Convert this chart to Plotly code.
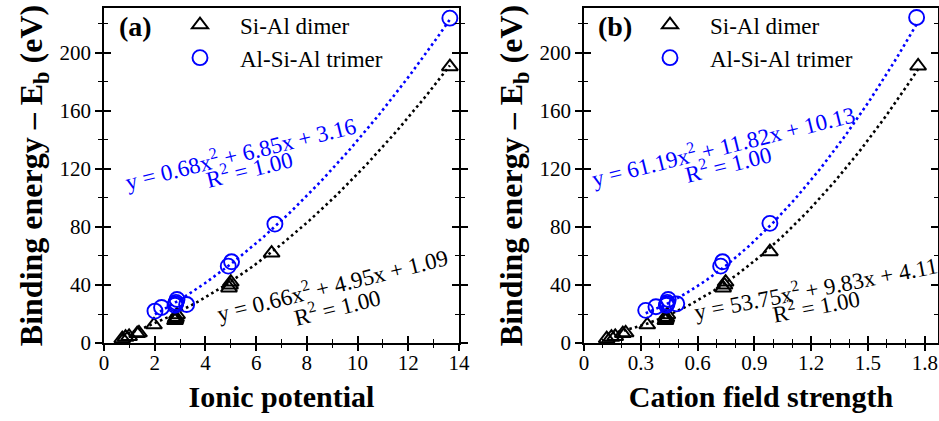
import numpy as np
import plotly.graph_objects as go

# ---------------- data ----------------
# Panel (a): ionic potential
dimer_ip_x = [0.72, 0.85, 0.99, 1.31, 1.38, 1.97, 2.80, 2.84, 2.88, 2.82, 4.93, 4.97, 5.00, 6.61, 13.64]
dimer_ip_y = [3.0, 4.0, 4.5, 6.5, 7.0, 12.5, 15.5, 17.5, 19.5, 16.5, 38.0, 40.0, 42.0, 62.0, 190.5]
trimer_ip_x = [2.01, 2.27, 2.80, 2.84, 2.88, 2.82, 3.26, 4.90, 5.03, 6.74, 13.64]
trimer_ip_y = [22.0, 24.5, 26.0, 28.0, 30.0, 27.0, 26.5, 53.0, 56.0, 82.0, 224.0]

# Panel (b): cation field strength
dimer_cfs_x = [0.12, 0.145, 0.165, 0.205, 0.22, 0.334, 0.43, 0.435, 0.44, 0.432, 0.735, 0.742, 0.748, 0.982, 1.765]
dimer_cfs_y = [3.0, 4.0, 4.5, 6.5, 7.0, 12.5, 15.5, 17.5, 19.5, 16.5, 38.0, 40.0, 42.0, 63.0, 191.0]
trimer_cfs_x = [0.326, 0.38, 0.435, 0.44, 0.445, 0.438, 0.49, 0.722, 0.732, 0.982, 1.757]
trimer_cfs_y = [22.5, 25.0, 26.0, 28.0, 30.0, 27.0, 27.0, 53.0, 56.0, 82.5, 224.5]

# quadratic fit coefficients shown on the chart (a2, a1, a0)
fit_dimer_ip = [0.66, 4.95, 1.09]
fit_trimer_ip = [0.68, 6.85, 3.16]
fit_dimer_cfs = [53.75, 9.83, 4.11]
fit_trimer_cfs = [61.19, 11.82, 10.13]

series_names = ["Si-Al dimer", "Al-Si-Al trimer"]
x_titles = ["Ionic potential", "Cation field strength"]
y_title = "Binding energy – E<sub>b</sub> (eV)"
panel_labels = ["(a)", "(b)"]
x_ticks_a = [0, 2, 4, 6, 8, 10, 12, 14]
x_ticks_b = [0, 0.3, 0.6, 0.9, 1.2, 1.5, 1.8]
y_ticks = [0, 40, 80, 120, 160, 200]

# ---------------- style ----------------
BLUE = "#0000ff"
BLACK = "#000000"
FONT = "'Liberation Serif', 'Times New Roman', Times, serif"
W, H = 939, 421
ML, MR, MT, MB = 0, 0, 8, 78


def fit_curve(xs, c, n=120):
    xx = np.linspace(min(xs), max(xs), n)
    return xx, c[0] * xx ** 2 + c[1] * xx + c[2]


fig = go.Figure()

panels = [
    ("x", "y", dimer_ip_x, dimer_ip_y, trimer_ip_x, trimer_ip_y, fit_dimer_ip, fit_trimer_ip, "legend"),
    ("x2", "y2", dimer_cfs_x, dimer_cfs_y, trimer_cfs_x, trimer_cfs_y, fit_dimer_cfs, fit_trimer_cfs, "legend2"),
]

for xa, ya, dx, dy, tx, ty, fd, ft, leg in panels:
    xx, yy = fit_curve(dx, fd)
    fig.add_trace(go.Scatter(x=xx, y=yy, mode="lines", xaxis=xa, yaxis=ya,
                             line=dict(color=BLACK, width=2.6, dash="2.6px,3.2px"),
                             showlegend=False, hoverinfo="skip"))
    xx, yy = fit_curve(tx, ft)
    fig.add_trace(go.Scatter(x=xx, y=yy, mode="lines", xaxis=xa, yaxis=ya,
                             line=dict(color=BLUE, width=2.6, dash="2.6px,3.2px"),
                             showlegend=False, hoverinfo="skip"))
    fig.add_trace(go.Scatter(x=dx, y=dy, mode="markers", xaxis=xa, yaxis=ya,
                             name=series_names[0], legend=leg, legendgroup=leg + "d",
                             marker=dict(symbol="triangle-up-open", size=14, color=BLACK,
                                         line=dict(width=2.0, color=BLACK))))
    fig.add_trace(go.Scatter(x=tx, y=ty, mode="markers", xaxis=xa, yaxis=ya,
                             name=series_names[1], legend=leg, legendgroup=leg + "t",
                             marker=dict(symbol="circle-open", size=15, color=BLUE,
                                         line=dict(width=1.9, color=BLUE))))

# overlay axes with opposite tick direction -> crossing ticks
fig.add_trace(go.Scatter(x=[], y=[], xaxis="x3", yaxis="y3", showlegend=False))
fig.add_trace(go.Scatter(x=[], y=[], xaxis="x4", yaxis="y4", showlegend=False))

dom_a = [104 / W, 459 / W]
dom_b = [584 / W, 938 / W]


def xaxis(dom, rng, ticks, minor_dt, title, tdir="inside", overlay=None, anchor="y"):
    d = dict(domain=dom, range=rng, tickmode="array", tickvals=ticks,
             ticktext=[("%g" % t) for t in ticks],
             ticks=tdir, ticklen=7, tickwidth=1.5, tickcolor=BLACK,
             minor=dict(dtick=minor_dt, ticks=tdir, ticklen=4, tickwidth=1.3, tickcolor=BLACK),
             showgrid=False, zeroline=False, anchor=anchor,
             tickfont=dict(family=FONT, size=21, color=BLACK))
    if overlay is None:
        d.update(showline=True, linecolor=BLACK, linewidth=1.8, mirror=True,
                 title=dict(text="<b>%s</b>" % title, standoff=12,
                            font=dict(family=FONT, size=30, color=BLACK)))
    else:
        d.update(overlaying=overlay, matches=overlay, showticklabels=False, showline=False)
    return d


def yaxis(anchor, tdir="outside", overlay=None):
    d = dict(domain=[0, 1], range=[0, 231], tickmode="array", tickvals=y_ticks,
             ticks=tdir, ticklen=7, tickwidth=1.5, tickcolor=BLACK,
             minor=dict(dtick=20, ticks=tdir, ticklen=4, tickwidth=1.3, tickcolor=BLACK),
             showgrid=False, zeroline=False, anchor=anchor, mirror="ticks",
             tickfont=dict(family=FONT, size=21, color=BLACK))
    if overlay is None:
        d.update(showline=True, linecolor=BLACK, linewidth=1.8,
                 title=dict(text="<b>%s</b>" % y_title, standoff=7,
                            font=dict(family=FONT, size=32, color=BLACK)))
    else:
        d.update(overlaying=overlay, matches=overlay, showticklabels=False, showline=False)
    return d


annotations = []
for i, (xr, yr) in enumerate([("x", "y"), ("x2", "y2")]):
    annotations.append(dict(text="<b>%s</b>" % panel_labels[i], xref=xr + " domain", yref=yr + " domain",
                            x=0.088, y=0.945, xanchor="center", yanchor="middle", showarrow=False,
                            font=dict(family=FONT, size=28, color=BLACK)))

eq_specs = [
    # xref, yref, x, y, text, color, angle
    ("x", "y", 5.40, 131.5, "y = 0.68x<sup>2</sup> + 6.85x + 3.16", BLUE, -14),
    ("x", "y", 5.70, 120.5, "R<sup>2</sup> = 1.00", BLUE, -14),
    ("x", "y", 9.00, 40.0, "y = 0.66x<sup>2</sup> + 4.95x + 1.09", BLACK, -14),
    ("x", "y", 9.20, 25.0, "R<sup>2</sup> = 1.00", BLACK, -14),
    ("x2", "y2", 0.734, 136.0, "y = 61.19x<sup>2</sup> + 11.82x + 10.13", BLUE, -14),
    ("x2", "y2", 0.762, 123.5, "R<sup>2</sup> = 1.00", BLUE, -14),
    ("x2", "y2", 1.225, 38.5, "y = 53.75x<sup>2</sup> + 9.83x + 4.11", BLACK, -11),
    ("x2", "y2", 1.225, 26.0, "R<sup>2</sup> = 1.00", BLACK, -11),
]
for xr, yr, x, y, t, c, a in eq_specs:
    annotations.append(dict(text=t, xref=xr, yref=yr, x=x, y=y, showarrow=False,
                            xanchor="center", yanchor="middle",
                            textangle=a, font=dict(family=FONT, size=23, color=c)))

legend_common = dict(font=dict(family=FONT, size=23, color=BLACK), bgcolor="rgba(0,0,0,0)",
                     borderwidth=0, xanchor="left", yanchor="top", itemwidth=70,
                     tracegroupgap=0, itemclick=False, itemdoubleclick=False)

fig.update_layout(
    width=W, height=H,
    margin=dict(l=ML, r=MR, t=MT, b=MB, autoexpand=False),
    paper_bgcolor="white", plot_bgcolor="white",
    showlegend=True,
    xaxis=xaxis(dom_a, [0, 14], x_ticks_a, 1, x_titles[0]),
    yaxis=yaxis("x"),
    xaxis2=xaxis(dom_b, [0, 1.87], x_ticks_b, 0.1, x_titles[1], anchor="y2"),
    yaxis2=yaxis("x2"),
    xaxis3=xaxis(dom_a, [0, 14], x_ticks_a, 1, None, tdir="outside", overlay="x", anchor="y3"),
    yaxis3=yaxis("x3", tdir="inside", overlay="y"),
    xaxis4=xaxis(dom_b, [0, 1.87], x_ticks_b, 0.1, None, tdir="outside", overlay="x2", anchor="y4"),
    yaxis4=yaxis("x4", tdir="inside", overlay="y2"),
    legend=dict(x=160 / W, y=1.014, **legend_common),
    legend2=dict(x=630 / W, y=1.014, **legend_common),
    annotations=annotations,
)

fig.write_html("out.html")
